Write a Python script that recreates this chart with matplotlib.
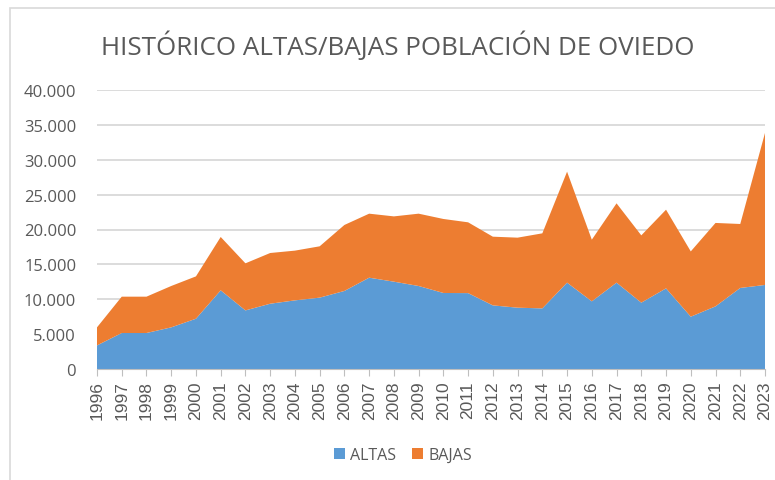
import matplotlib.pyplot as plt
from matplotlib.patches import Rectangle
from matplotlib.ticker import FuncFormatter

# values
years = list(range(1996, 2024))
altas = [3380, 5160, 5160, 5970, 7210, 11280, 8400, 9360, 9840, 10230,
         11190, 13090, 12520, 11900, 10900, 10880, 9120, 8790, 8690, 12380,
         9700, 12380, 9510, 11560, 7500, 8980, 11620, 12050]
totales = [5970, 10370, 10370, 11900, 13280, 18930, 15150, 16630, 16970, 17590,
           20650, 22270, 21880, 22270, 21510, 21030, 18970, 18830, 19450, 28290,
           18540, 23750, 19160, 22840, 16860, 20940, 20790, 33840]
bajas = [t - a for t, a in zip(totales, altas)]

blue = "#5B9BD5"
orange = "#ED7D31"
grey_text = "#595959"

fig = plt.figure(figsize=(7.75, 4.81), dpi=100)
ax = fig.add_axes([97 / 775, 1 - 370 / 481, 668 / 775, 279 / 481])

ax.stackplot(years, altas, bajas, colors=[blue, orange], labels=["ALTAS", "BAJAS"],
             linewidth=0)

ax.set_xlim(1996, 2023)
ax.set_ylim(0, 40000)
ax.set_yticks(range(0, 40001, 5000))
ax.yaxis.set_major_formatter(FuncFormatter(lambda v, p: f"{int(v):,}".replace(",", ".")))
ax.grid(axis="y", color="#d9d9d9", linewidth=1.3)
ax.set_axisbelow(True)

for side in ["top", "right", "left"]:
    ax.spines[side].set_visible(False)
ax.spines["bottom"].set_color("#bfbfbf")
ax.spines["bottom"].set_zorder(3)

ax.set_xticks(years)
ax.set_xticklabels([str(y) for y in years], rotation=90, fontsize=12.5,
                   color=grey_text, family="Liberation Sans")
ax.tick_params(axis="x", length=5, color="#bfbfbf", pad=3)
ax.tick_params(axis="y", length=0, pad=15, labelsize=12, labelcolor=grey_text)
for lab in ax.get_yticklabels():
    lab.set_family("Open Sans")

fig.text(101 / 775, 1 - 46 / 481, "HISTÓRICO ALTAS/BAJAS POBLACIÓN DE OVIEDO",
         fontsize=18.7, color=grey_text, family="Open Sans", va="center", ha="left")

fig.legend(loc="center", bbox_to_anchor=(403 / 775, 1 - 456 / 481), ncol=2,
           frameon=False, handlelength=0.7, handleheight=0.7,
           handletextpad=0.3, columnspacing=1.0, labelcolor=grey_text,
           prop={"family": "Open Sans", "size": 11.5})

# chart frame
fig.patches.append(Rectangle((10 / 775, -0.1), 1.2, 1 - 9 / 481 + 0.1,
                             transform=fig.transFigure, fill=False,
                             edgecolor="#d9d9d9", linewidth=1.2))

fig.savefig("out.png", dpi=100)
